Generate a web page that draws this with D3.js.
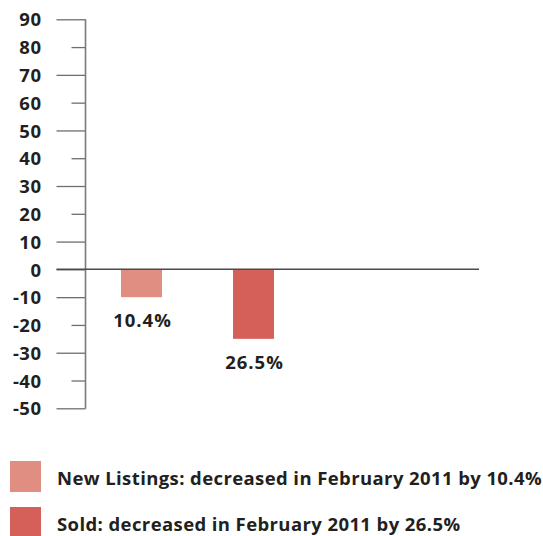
<!DOCTYPE html>
<html>
<head>
<meta charset="utf-8">
<script src="https://cdn.jsdelivr.net/npm/d3@7"></script>
<style>
  html, body { margin: 0; padding: 0; background: #fff; }
  svg { display: block; }
  text { font-family: "Open Sans", Lato, sans-serif; font-weight: 700; fill: #231f20; }
</style>
</head>
<body>
<script>
// ---- data ----
const categories = ["New Listings", "Sold"];
const barValues = [-10, -25];
const barLabels = ["10.4%", "26.5%"];
const barColors = ["#e08e82", "#d5605a"];
const tickValues = [90, 80, 70, 60, 50, 40, 30, 20, 10, 0, -10, -20, -30, -40, -50];
const longTicks = [90, 70, 50, 30, 10, 0, -10, -30, -50];
const legendLabels = [
  "New Listings: decreased in February 2011 by 10.4%",
  "Sold: decreased in February 2011 by 26.5%"
];

// ---- layout ----
const W = 543, H = 536;
const axisX = 85.5, plotRight = 479;
const svg = d3.select("body").append("svg").attr("width", W).attr("height", H);

const y = d3.scaleLinear().domain([-50, 90]).range([408.3, 19.3]);
const x = d3.scaleBand().domain(categories).range([axisX, axisX + 224])
  .paddingInner(0.634).paddingOuter(0.317);

// bars
svg.selectAll("rect.bar").data(categories).enter().append("rect")
  .attr("class", "bar")
  .attr("x", d => x(d))
  .attr("width", x.bandwidth())
  .attr("y", (d, i) => y(Math.max(0, barValues[i])))
  .attr("height", (d, i) => Math.abs(y(barValues[i]) - y(0)))
  .attr("fill", (d, i) => barColors[i]);

// bar labels
svg.selectAll("text.blabel").data(categories).enter().append("text")
  .attr("class", "blabel")
  .attr("x", d => x(d) + x.bandwidth() / 2 + 1)
  .attr("y", (d, i) => y(barValues[i]) + 30)
  .attr("text-anchor", "middle")
  .attr("font-size", 18.5)
  .attr("letter-spacing", 1)
  .text((d, i) => barLabels[i]);

// y axis
const axis = d3.axisLeft(y).tickValues(tickValues).tickSize(0).tickPadding(0);
const g = svg.append("g").attr("transform", `translate(${axisX},0)`).call(axis);
g.select(".domain").remove();
g.selectAll(".tick line")
  .attr("x2", d => longTicks.includes(d) ? -29 : -14)
  .attr("stroke", "#6e6e6e").attr("stroke-width", 1.3);
g.selectAll(".tick text")
  .attr("x", -44).attr("dy", "0.36em")
  .attr("text-anchor", "end")
  .attr("font-size", 18.5)
  .attr("letter-spacing", 0.5)
  .attr("font-family", "'Open Sans', sans-serif")
  .attr("font-weight", 700)
  .attr("fill", "#231f20");
g.selectAll(".tick text").each(function(d){ d3.select(this).text(d); });

// axis vertical line
svg.append("line").attr("x1", axisX).attr("x2", axisX)
  .attr("y1", y(90)).attr("y2", y(-50) + 0.5)
  .attr("stroke", "#7a7a7a").attr("stroke-width", 1.6);

// zero baseline
svg.append("line").attr("x1", axisX - 29).attr("x2", plotRight)
  .attr("y1", y(0)).attr("y2", y(0))
  .attr("stroke", "#4a4a4a").attr("stroke-width", 1.5);

// legend
const legY = [461, 507];
const leg = svg.selectAll("g.leg").data(legendLabels).enter().append("g").attr("class", "leg");
leg.append("rect").attr("x", 10).attr("y", (d, i) => legY[i])
  .attr("width", 31).attr("height", 31)
  .attr("fill", (d, i) => barColors[i]);
leg.append("text").attr("x", 57).attr("y", (d, i) => legY[i] + 24)
  .attr("font-size", 18.5)
  .attr("letter-spacing", 0.4)
  .text(d => d);
</script>
</body>
</html>
